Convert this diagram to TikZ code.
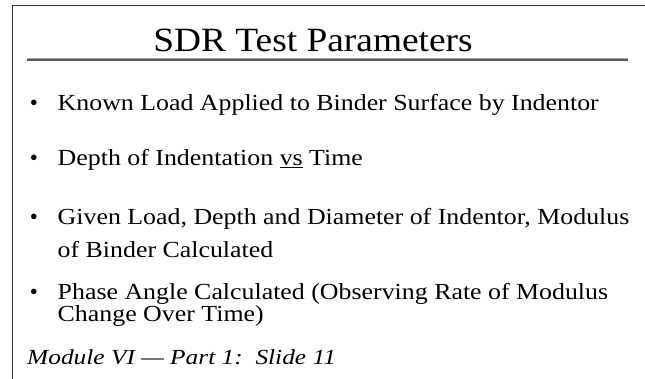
\documentclass[tikz,border=0pt]{standalone}
\usepackage{fontspec}
\setmainfont{Liberation Serif}
\newfontfamily\bodyfont[FakeStretch=1.125,Ligatures=TeX]{Liberation Serif}
\newfontfamily\headfont[FakeStretch=1.1,Ligatures=TeX]{Liberation Serif}
\newfontfamily\footfont[FakeStretch=1.18,Ligatures=TeX]{Liberation Serif}
\begin{document}
\begin{tikzpicture}[x=1pt,y=-1pt,
  frameline/.style={draw=black!80,line width=1.6pt},
  bodytext/.style={anchor=base west,inner sep=0pt,font=\bodyfont\fontsize{23}{28}\selectfont},
  bulletmark/.style={anchor=base,inner sep=0pt,font=\fontsize{23}{28}\selectfont},
  titletext/.style={anchor=base,inner sep=0pt,font=\headfont\fontsize{34}{40}\selectfont},
  foottext/.style={anchor=base west,inner sep=0pt,font=\footfont\fontsize{21.5}{25}\itshape\selectfont}]
\useasboundingbox (0,0) rectangle (645,379);
\fill[white] (0,0) rectangle (645,379);

% slide frame (left and top edges)
\coordinate (fbl) at (12.3,379);
\coordinate (ftl) at (12.3,5.5);
\coordinate (ftr) at (645,5.5);
\draw[frameline] (fbl) -- (ftl) -- (ftr);

% title and its rule
\node[titletext] (title) at (313,52) {SDR Test Parameters};
\coordinate (rl) at (27,60);
\coordinate (rr) at (628,60);
\draw[black!65,line width=2.2pt] (rl) -- (rr);
\draw[black!35,line width=0.8pt] ([yshift=1.6pt]rl) -- ([yshift=1.6pt]rr);

% bullet items
\node[bulletmark] (b1) at (34,111) {\textbullet};
\node[bodytext] (t1) at (57.5,111) {Known Load Applied to Binder Surface by Indentor};

\node[bulletmark] (b2) at (34,165.7) {\textbullet};
\node[bodytext] (t2) at (57.5,165.7) {Depth of Indentation \underline{vs} Time};

\node[bulletmark] (b3) at (34,225) {\textbullet};
\node[bodytext] (t3) at (57.5,225) {Given Load, Depth and Diameter of Indentor, Modulus};
\node[bodytext] (t3b) at (57.5,257.7) {of Binder Calculated};

\node[bulletmark] (b4) at (34,299) {\textbullet};
\node[bodytext] (t4) at (57.5,299) {Phase Angle Calculated (Observing Rate of Modulus};
\node[bodytext] (t4b) at (57.5,321.7) {Change Over Time)};

% footer
\node[foottext] (foot) at (27,364) {Module VI — Part 1:\ \ Slide 11};
\end{tikzpicture}
\end{document}
